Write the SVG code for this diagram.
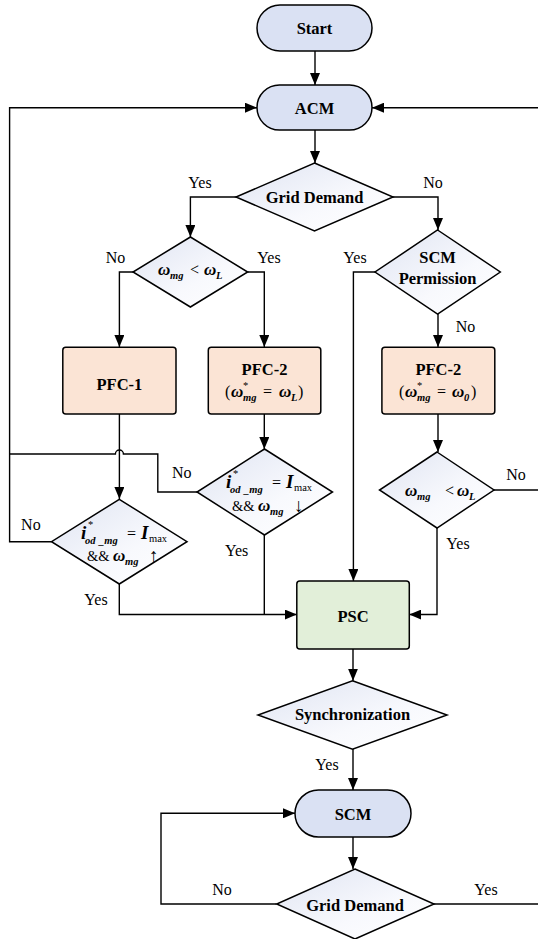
<svg xmlns="http://www.w3.org/2000/svg" width="538" height="939" viewBox="0 0 538 939" font-family="'Liberation Serif', 'Times New Roman', 'DejaVu Serif', serif">
  <defs>
    <linearGradient id="dg" x1="0" y1="0" x2="1" y2="1">
      <stop offset="0" stop-color="#dfe4f2"/>
      <stop offset="0.6" stop-color="#f8f9fd"/>
      <stop offset="1" stop-color="#ffffff"/>
    </linearGradient>
    <marker id="ah" markerUnits="userSpaceOnUse" markerWidth="12" markerHeight="10" refX="12" refY="5" orient="auto">
      <path d="M0,0 L12,5 L0,10 z" fill="#000"/>
    </marker>
    <style>
      .n { stroke:#000; stroke-width:1.5; }
      .pill { fill:#dae1f3; }
      .pfc { fill:#fbe4d5; }
      .psc { fill:#e2efd9; }
      .dia { fill:url(#dg); }
      .c { fill:none; stroke:#000; stroke-width:1.4; }
      .a { marker-end:url(#ah); }
      text { font-family:'Liberation Serif', 'Times New Roman', 'DejaVu Serif', serif; fill:#000; }
      .t { font-size:16.5px; font-weight:bold; text-anchor:middle; }
      .l { font-size:16px; text-anchor:middle; }
      .bi { font-style:italic; font-weight:bold; }
      .w { font-size:17px; }
      .i { font-size:19px; }
      .s { font-size:10.5px; }
      .r { font-size:16px; }
      .amp { font-size:14.5px; }
      .ar { font-size:19px; }
    </style>
  </defs>

  <!-- connectors -->
  <g id="connectors">
    <path class="c a" d="M315,51 V85"/>
    <path class="c a" d="M315,130 V163"/>
    <path class="c a" d="M236,197 H190.4 V237"/>
    <path class="c a" d="M393,197 H438 V230"/>
    <path class="c a" d="M133,272 H119.4 V347"/>
    <path class="c a" d="M247.7,272 H264.3 V347"/>
    <path class="c a" d="M438,314 V347"/>
    <path class="c a" d="M375,272 H353.4 V581"/>
    <path class="c a" d="M119.4,414 V499"/>
    <path class="c a" d="M264.3,414 V449"/>
    <path class="c a" d="M438,414 V452"/>
    <!-- feedback to ACM from the left -->
    <path class="c" d="M197,492 H157.8 V454 H123.4 A4,4 0 0 0 115.4,454 H9.6"/>
    <path class="c a" d="M51.5,541.7 H9.6 V107.7 H257"/>
    <!-- feedback to ACM from the right -->
    <path class="c a" d="M538,107.7 H372"/>
    <path class="c" d="M494,490 H538"/>
    <!-- into PSC -->
    <path class="c a" d="M119.3,584 V614.5 H296.8"/>
    <path class="c" d="M264.3,535 V614.5"/>
    <path class="c a" d="M437,528 V614.5 H409.3"/>
    <!-- lower chain -->
    <path class="c a" d="M353,649 V680.7"/>
    <path class="c a" d="M353,749 V790"/>
    <path class="c a" d="M353,837 V869"/>
    <path class="c a" d="M276.7,904 H161 V813.3 H295"/>
    <path class="c" d="M434,904 H538"/>
  </g>

  <!-- branch labels -->
  <g id="labels">
    <text class="l" x="200" y="188">Yes</text>
    <text class="l" x="433" y="188">No</text>
    <text class="l" x="115.6" y="263">No</text>
    <text class="l" x="269" y="263">Yes</text>
    <text class="l" x="355" y="263">Yes</text>
    <text class="l" x="465.6" y="331.5">No</text>
    <text class="l" x="181.8" y="478">No</text>
    <text class="l" x="30.9" y="529.5">No</text>
    <text class="l" x="236.7" y="556">Yes</text>
    <text class="l" x="458" y="549">Yes</text>
    <text class="l" x="516" y="480">No</text>
    <text class="l" x="96" y="605">Yes</text>
    <text class="l" x="327" y="770">Yes</text>
    <text class="l" x="222" y="895">No</text>
    <text class="l" x="486" y="895">Yes</text>
  </g>

  <g id="start">
    <rect class="n pill" x="257" y="5" width="115" height="46" rx="23"/>
    <text class="t" x="314.5" y="33.5">Start</text>
  </g>

  <g id="acm">
    <rect class="n pill" x="257" y="85" width="115" height="45" rx="22.5"/>
    <text class="t" x="314.5" y="113.5">ACM</text>
  </g>

  <g id="grid-demand-1">
    <path class="n dia" d="M314.5,163 L393,197 L314.5,231 L236,197 Z"/>
    <text class="t" x="314.5" y="202.5">Grid Demand</text>
  </g>

  <g id="freq-check-1">
    <path class="n dia" d="M190.4,237 L247.7,272 L190.4,307 L133,272 Z"/>
    <text><tspan class="bi w" x="158" y="275">ω</tspan><tspan class="bi s" x="170" y="279">mg</tspan><tspan class="r" x="190" y="275">&lt;</tspan><tspan class="bi w" x="204" y="275">ω</tspan><tspan class="bi s" x="216" y="279">L</tspan></text>
  </g>

  <g id="scm-permission">
    <path class="n dia" d="M437.6,230 L500.3,272 L437.6,314 L375,272 Z"/>
    <text class="t" x="437.6" y="263">SCM</text>
    <text class="t" x="437.6" y="284">Permission</text>
  </g>

  <g id="pfc-1">
    <rect class="n pfc" x="62.8" y="347.3" width="113.2" height="66.7" rx="3"/>
    <text class="t" x="119.4" y="389.5">PFC-1</text>
  </g>

  <g id="pfc-2-left">
    <rect class="n pfc" x="208.3" y="347.3" width="112.5" height="66.7" rx="3"/>
    <text class="t" x="264.5" y="375">PFC-2</text>
    <text><tspan class="r" x="225" y="397">(</tspan><tspan class="bi w" x="231" y="397">ω</tspan><tspan class="s" x="243" y="389">*</tspan><tspan class="bi s" x="243" y="401">mg</tspan><tspan class="r" x="263" y="397">=</tspan><tspan class="bi w" x="279" y="397">ω</tspan><tspan class="bi s" x="291" y="401">L</tspan><tspan class="r" x="298" y="397">)</tspan></text>
  </g>

  <g id="pfc-2-right">
    <rect class="n pfc" x="381.9" y="347.3" width="112.9" height="66.7" rx="3"/>
    <text class="t" x="438.3" y="375">PFC-2</text>
    <text><tspan class="r" x="399" y="397">(</tspan><tspan class="bi w" x="405" y="397">ω</tspan><tspan class="s" x="417" y="389">*</tspan><tspan class="bi s" x="417" y="401">mg</tspan><tspan class="r" x="437" y="397">=</tspan><tspan class="bi w" x="452" y="397">ω</tspan><tspan class="bi s" x="464" y="401">0</tspan><tspan class="r" x="471" y="397">)</tspan></text>
  </g>

  <g id="current-check-up">
    <path class="n dia" d="M119.3,499.3 L187,541.7 L119.3,584 L51.5,541.7 Z"/>
    <text><tspan class="bi i" x="81" y="539">i</tspan><tspan class="s" x="88" y="528">*</tspan><tspan class="bi s" x="85" y="544">od</tspan><tspan class="bi s" x="99" y="544">_mg</tspan><tspan class="r" x="127" y="539">=</tspan><tspan class="bi i" x="141" y="539">I</tspan><tspan class="s" x="149" y="542">max</tspan></text>
    <text><tspan class="amp" x="87" y="561">&amp;&amp;</tspan><tspan class="bi w" x="113" y="561">ω</tspan><tspan class="bi s" x="125" y="565">mg</tspan><tspan class="ar" x="149" y="562">↑</tspan></text>
  </g>

  <g id="current-check-down">
    <path class="n dia" d="M264.5,449 L332.5,492 L264.5,535 L197,492 Z"/>
    <text><tspan class="bi i" x="226" y="488">i</tspan><tspan class="s" x="233" y="477">*</tspan><tspan class="bi s" x="230" y="493">od</tspan><tspan class="bi s" x="244" y="493">_mg</tspan><tspan class="r" x="272" y="488">=</tspan><tspan class="bi i" x="286" y="488">I</tspan><tspan class="s" x="294" y="491">max</tspan></text>
    <text><tspan class="amp" x="232" y="511">&amp;&amp;</tspan><tspan class="bi w" x="258" y="511">ω</tspan><tspan class="bi s" x="270" y="515">mg</tspan><tspan class="ar" x="294" y="512">↓</tspan></text>
  </g>

  <g id="freq-check-2">
    <path class="n dia" d="M437,452 L494,490 L437,528 L379.5,490 Z"/>
    <text><tspan class="bi w" x="405" y="496">ω</tspan><tspan class="bi s" x="417" y="500">mg</tspan><tspan class="r" x="445" y="496">&lt;</tspan><tspan class="bi w" x="457" y="496">ω</tspan><tspan class="bi s" x="469" y="500">L</tspan></text>
  </g>

  <g id="psc">
    <rect class="n psc" x="296.8" y="581" width="112.5" height="68" rx="3"/>
    <text class="t" x="353" y="621.5">PSC</text>
  </g>

  <g id="synchronization">
    <path class="n dia" d="M352.5,680.7 L447,715 L352.5,749.3 L258,715 Z"/>
    <text class="t" x="352.5" y="720">Synchronization</text>
  </g>

  <g id="scm">
    <rect class="n pill" x="295" y="790" width="116" height="47" rx="23.5"/>
    <text class="t" x="353" y="820">SCM</text>
  </g>

  <g id="grid-demand-2">
    <path class="n dia" d="M355,869 L434,904 L355,939 L276.7,904 Z"/>
    <text class="t" x="355" y="910.5">Grid Demand</text>
  </g>
</svg>
